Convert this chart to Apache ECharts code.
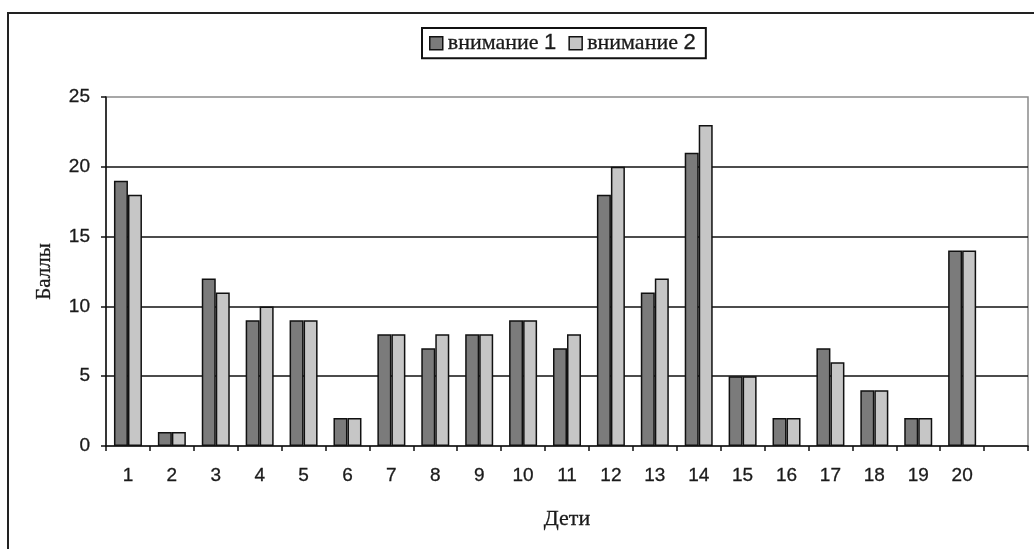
<!DOCTYPE html>
<html>
<head>
<meta charset="utf-8">
<script src="https://cdn.jsdelivr.net/npm/echarts@6/dist/echarts.min.js"></script>
<style>html,body{margin:0;padding:0;background:#fff}#c{width:1034px;height:549px}</style>
</head>
<body>
<div id="c"></div>
<script>
const categories = ['1','2','3','4','5','6','7','8','9','10','11','12','13','14','15','16','17','18','19','20',''];
const attention1 = [19,1,12,9,9,2,8,7,8,9,7,18,11,21,5,2,7,4,2,14,null];
const attention2 = [18,1,11,10,9,2,8,8,8,9,8,20,12,23,5,2,6,4,2,14,null];
const seriesNames = ['внимание 1','внимание 2'];
const yTicks = {min:0, max:25, interval:5};

const chart = echarts.init(document.getElementById('c'), null, {renderer:'canvas'});
const serif = '"Liberation Serif", "DejaVu Serif", serif';
const sans = '"Liberation Sans", Arial, sans-serif';
const thick = {textBorderColor:'#1a1a1a', textBorderWidth:0.3};
chart.setOption({
  backgroundColor:'#fff',
  animation:false,
  graphic:[{type:'rect', shape:{x:8,y:13,width:1040,height:560}, style:{fill:'none',stroke:'#222',lineWidth:2}, z:100}],
  legend:{
    left:422, top:28, padding:[4,10,4,7], itemGap:12,
    borderColor:'#111', borderWidth:2,
    itemWidth:13, itemHeight:13,
    icon:'rect',
    formatter: function(n){ const p=n.split(' '); return '{a|'+p[0]+' }{b|'+p[1]+'}'; },
    textStyle:{ rich:{ a:Object.assign({fontFamily:serif,fontSize:22,color:'#1a1a1a'},thick), b:Object.assign({fontFamily:sans,fontSize:22,color:'#1a1a1a'},thick) }, padding:[0,0,0,0] },
    itemStyle:{borderColor:'#111',borderWidth:1.5},
    data:seriesNames
  },
  grid:{left:106, top:97, right:6, bottom:103, show:true, borderColor:'#8a8a8a', borderWidth:1.5, backgroundColor:'transparent'},
  xAxis:{
    type:'category', data:categories, boundaryGap:true,
    name:'Дети', nameLocation:'middle', nameGap:62,
    nameTextStyle:Object.assign({fontFamily:serif, fontSize:22, color:'#1a1a1a'},thick),
    axisLine:{lineStyle:{color:'#111',width:1.5}},
    axisTick:{show:true, length:5, lineStyle:{color:'#111',width:1.5}},
    axisLabel:Object.assign({fontFamily:sans, fontSize:19, color:'#1a1a1a', margin:20, interval:0},thick)
  },
  yAxis:{
    type:'value', min:yTicks.min, max:yTicks.max, interval:yTicks.interval,
    name:'Баллы', nameLocation:'middle', nameGap:51, nameRotate:90,
    nameTextStyle:Object.assign({fontFamily:serif, fontSize:21, color:'#1a1a1a'},thick),
    axisLine:{show:true, lineStyle:{color:'#111',width:1.5}},
    axisTick:{show:true, length:5, lineStyle:{color:'#111',width:1.5}},
    axisLabel:Object.assign({fontFamily:sans, fontSize:19, color:'#1a1a1a', margin:16},thick),
    splitLine:{show:true, showMinLine:false, showMaxLine:false, lineStyle:{color:'#111',width:1.5}}
  },
  series:[
    {name:seriesNames[0], type:'bar', data:attention1, barWidth:14, barGap:'0%',
     itemStyle:{color:'#7b7b7b', borderColor:'#111', borderWidth:1.5}},
    {name:seriesNames[1], type:'bar', data:attention2, barWidth:14, barGap:'0%',
     itemStyle:{color:'#c6c6c6', borderColor:'#111', borderWidth:1.5}}
  ]
});
</script>
</body>
</html>
